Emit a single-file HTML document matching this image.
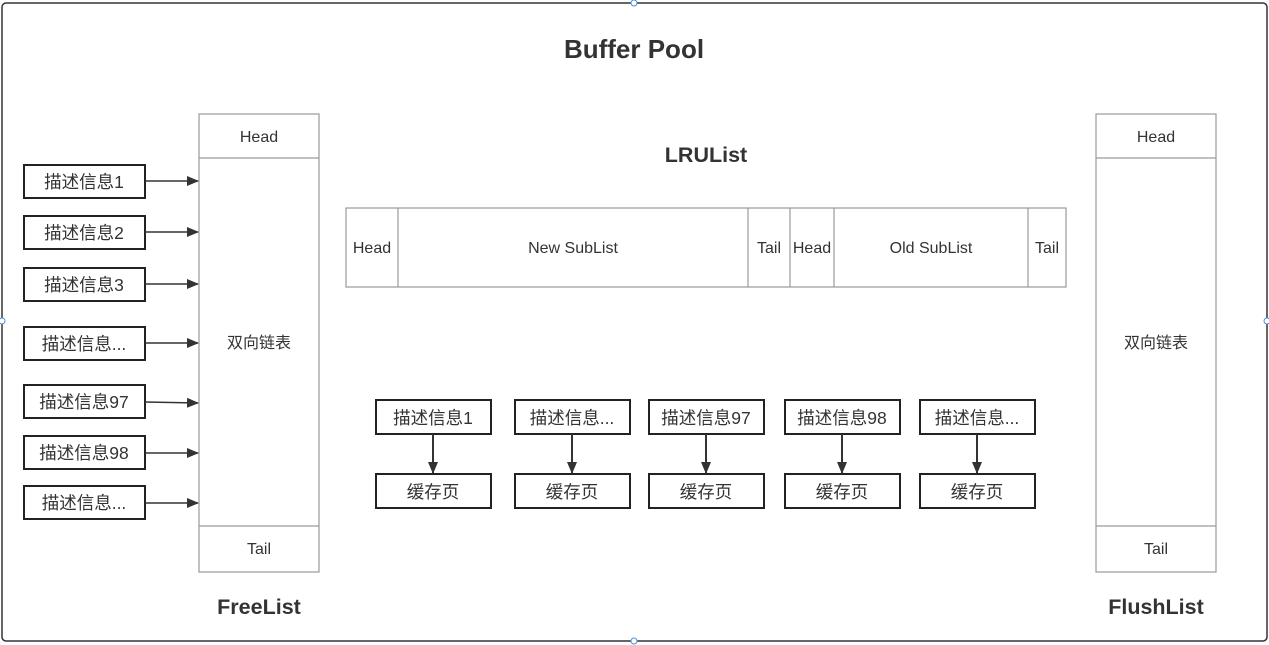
<!DOCTYPE html>
<html><head><meta charset="utf-8"><style>
html,body{margin:0;padding:0;background:#fff;}
svg{display:block;}
text{font-family:"Liberation Sans","Noto Sans CJK SC",sans-serif;fill:#333;}
</style></head><body>
<svg width="1269" height="645" viewBox="0 0 1269 645" xmlns="http://www.w3.org/2000/svg">
<defs><marker id="a" markerWidth="12" markerHeight="10" refX="11" refY="5" orient="auto" markerUnits="userSpaceOnUse"><path d="M0,0 L12,5 L0,10 z" fill="#333"/></marker></defs>
<rect x="2" y="3" width="1265" height="638" rx="4" fill="#fff" stroke="#333" stroke-width="1.5"/>
<g fill="#fff" stroke="#4a90e2" stroke-width="1"><circle cx="634" cy="3" r="3"/><circle cx="634" cy="641" r="3"/><circle cx="2" cy="321" r="3"/><circle cx="1267" cy="321" r="3"/></g>
<text x="634" y="58" font-size="26" font-weight="bold" text-anchor="middle">Buffer Pool</text>
<text x="706" y="162" font-size="21.5" font-weight="bold" text-anchor="middle">LRUList</text>
<text x="259" y="614" font-size="21.5" font-weight="bold" text-anchor="middle">FreeList</text>
<text x="1156" y="614" font-size="21.5" font-weight="bold" text-anchor="middle">FlushList</text>
<g stroke="#999" stroke-width="1.2" fill="none">
<rect x="199" y="114" width="120" height="458"/><line x1="199" y1="158" x2="319" y2="158"/><line x1="199" y1="526" x2="319" y2="526"/>
<rect x="1096" y="114" width="120" height="458"/><line x1="1096" y1="158" x2="1216" y2="158"/><line x1="1096" y1="526" x2="1216" y2="526"/>
<rect x="346" y="208" width="720" height="79"/>
<line x1="398" y1="208" x2="398" y2="287"/><line x1="748" y1="208" x2="748" y2="287"/><line x1="790" y1="208" x2="790" y2="287"/><line x1="834" y1="208" x2="834" y2="287"/><line x1="1028" y1="208" x2="1028" y2="287"/>
</g>
<g font-size="16" text-anchor="middle">
<text x="259" y="142">Head</text><text x="259" y="348">双向链表</text><text x="259" y="554">Tail</text>
<text x="1156" y="142">Head</text><text x="1156" y="348">双向链表</text><text x="1156" y="554">Tail</text>
<text x="372" y="253">Head</text><text x="573" y="253">New SubList</text><text x="769" y="253">Tail</text><text x="812" y="253">Head</text><text x="931" y="253">Old SubList</text><text x="1047" y="253">Tail</text>
</g>
<g stroke="#222" stroke-width="2" fill="#fff">
<rect x="24" y="165" width="121" height="33"/><rect x="24" y="216" width="121" height="33"/><rect x="24" y="268" width="121" height="33"/><rect x="24" y="327" width="121" height="33"/><rect x="24" y="385" width="121" height="33"/><rect x="24" y="436" width="121" height="33"/><rect x="24" y="486" width="121" height="33"/>
<rect x="376" y="400" width="115" height="34"/><rect x="515" y="400" width="115" height="34"/><rect x="649" y="400" width="115" height="34"/><rect x="785" y="400" width="115" height="34"/><rect x="920" y="400" width="115" height="34"/>
<rect x="376" y="474" width="115" height="34"/><rect x="515" y="474" width="115" height="34"/><rect x="649" y="474" width="115" height="34"/><rect x="785" y="474" width="115" height="34"/><rect x="920" y="474" width="115" height="34"/>
</g>
<g stroke="#333" stroke-width="1.5" marker-end="url(#a)">
<line x1="145" y1="181" x2="198" y2="181"/><line x1="145" y1="232" x2="198" y2="232"/><line x1="145" y1="284" x2="198" y2="284"/><line x1="145" y1="343" x2="198" y2="343"/><line x1="145" y1="402" x2="198" y2="403"/><line x1="145" y1="453" x2="198" y2="453"/><line x1="145" y1="503" x2="198" y2="503"/>
</g>
<g stroke="#333" stroke-width="2" marker-end="url(#a)">
<line x1="433" y1="434" x2="433" y2="473"/><line x1="572" y1="434" x2="572" y2="473"/><line x1="706" y1="434" x2="706" y2="473"/><line x1="842" y1="434" x2="842" y2="473"/><line x1="977" y1="434" x2="977" y2="473"/>
</g>
<g font-size="17.5" text-anchor="middle">
<text x="84" y="188">描述信息1</text><text x="84" y="239">描述信息2</text><text x="84" y="291">描述信息3</text><text x="84" y="350">描述信息...</text><text x="84" y="408">描述信息97</text><text x="84" y="459">描述信息98</text><text x="84" y="509">描述信息...</text>
<text x="433" y="424">描述信息1</text><text x="572" y="424">描述信息...</text><text x="706" y="424">描述信息97</text><text x="842" y="424">描述信息98</text><text x="977" y="424">描述信息...</text>
<text x="433" y="498">缓存页</text><text x="572" y="498">缓存页</text><text x="706" y="498">缓存页</text><text x="842" y="498">缓存页</text><text x="977" y="498">缓存页</text>
</g>
</svg>
</body></html>
